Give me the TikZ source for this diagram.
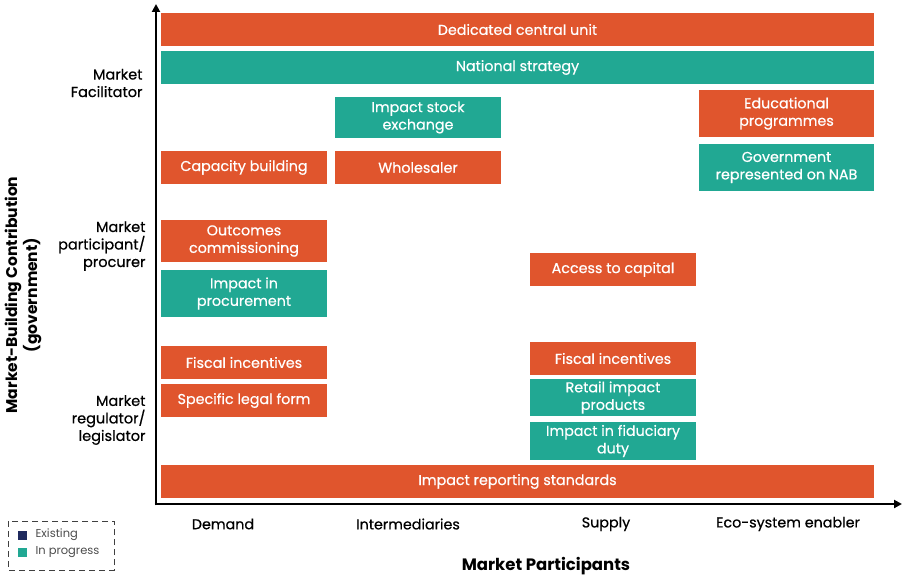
\documentclass[tikz,border=0pt]{standalone}
\usepackage{fontspec}
\setmainfont{Poppins}
\newfontfamily\medfont{Poppins}[FakeBold=0.5]
\usetikzlibrary{arrows.meta}
\definecolor{oran}{HTML}{E0552D}
\definecolor{teal2}{HTML}{21A893}
\definecolor{navy}{HTML}{1F2A5E}
\tikzset{
  box/.style={inner sep=0pt, align=center, text=white, font=\medfont\fontsize{14.3}{17.5}\selectfont},
  obox/.style={box, fill=oran},
  tbox/.style={box, fill=teal2},
  ylab/.style={align=right, anchor=east, font=\medfont\fontsize{14.5}{17.5}\selectfont, text=black},
  xlab/.style={anchor=center, font=\medfont\fontsize{14.3}{16}\selectfont, text=black},
  axis/.style={line width=2.6pt, -{Triangle[width=8pt,length=8pt]}},
}
\begin{document}
\begin{tikzpicture}[x=1pt,y=-1pt]
\useasboundingbox (0,0) rectangle (904,577);
% boxes
\node[obox, minimum width=713, minimum height=33] (ded) at (517.5,29.5) {Dedicated central unit};
\node[tbox, minimum width=713, minimum height=33] (nat) at (517.5,67.5) {National strategy};
\node[tbox, minimum width=166, minimum height=41] (ise) at (418,117.5) {Impact stock\\exchange};
\node[obox, minimum width=175, minimum height=47] (edu) at (786.5,113.5) {Educational\\programmes};
\node[obox, minimum width=166, minimum height=33] (cap) at (244,167.5) {Capacity building};
\node[obox, minimum width=166, minimum height=33] (who) at (418,167.5) {Wholesaler};
\node[tbox, minimum width=175, minimum height=47] (gov) at (786.5,167.5) {Government\\represented on NAB};
\node[obox, minimum width=166, minimum height=42] (out) at (244,241) {Outcomes\\commissioning};
\node[tbox, minimum width=166, minimum height=47] (proc) at (244,293.5) {Impact in\\procurement};
\node[obox, minimum width=166, minimum height=33] (acc) at (613,269.5) {Access to capital};
\node[obox, minimum width=166, minimum height=33] (fis1) at (244,362.5) {Fiscal incentives};
\node[obox, minimum width=166, minimum height=33] (leg) at (244,400.5) {Specific legal form};
\node[obox, minimum width=166, minimum height=33] (fis2) at (613,358.5) {Fiscal incentives};
\node[tbox, minimum width=166, minimum height=37] (ret) at (613,397.5) {Retail impact\\products};
\node[tbox, minimum width=166, minimum height=38] (fid) at (613,441) {Impact in fiduciary\\duty};
\node[obox, minimum width=713, minimum height=33] (rep) at (517.5,481.5) {Impact reporting standards};
% axes
\coordinate (origin) at (156,504);
\coordinate (ytop) at (156,4);
\coordinate (xend) at (902,504);
\draw[axis] ([yshift=-1.3pt]origin) -- (ytop);
\draw[axis] ([xshift=-1.3pt]origin) -- (xend);
% y labels
\node[ylab] (yl1) at (146,83) {Market\\Facilitator};
\node[ylab] (yl2) at (149,246) {Market\\participant/\\procurer};
\node[ylab] (yl3) at (149,420) {Market\\regulator/\\legislator};
\node[rotate=90, align=center, font=\bfseries\fontsize{15.5}{20}\selectfont] (ytitle) at (23,295) {Market-Building Contribution\\(government)};
% x labels
\node[xlab] (xl1) at (223,524) {Demand};
\node[xlab] (xl2) at (408,524) {Intermediaries};
\node[xlab] (xl3) at (606,524) {Supply};
\node[xlab] (xl4) at (788,524) {Eco-system enabler};
\node[font=\bfseries\fontsize{16.5}{18}\selectfont] (xtitle) at (546,566) {Market Participants};
% legend
\draw[dashed, dash pattern=on 6pt off 4pt, line width=0.8pt, draw=black!75] (8,521) rectangle (114,570);
\node[fill=navy, minimum size=9, inner sep=0pt] (sq1) at (22.5,535) {};
\node[fill=teal2, minimum size=9, inner sep=0pt] (sq2) at (22.5,552) {};
\node[anchor=west, text=black!70, font=\fontsize{11.5}{13}\selectfont] (lg1) at (32,535) {Existing};
\node[anchor=west, text=black!70, font=\fontsize{11.5}{13}\selectfont] (lg2) at (32,552) {In progress};
\end{tikzpicture}
\end{document}
